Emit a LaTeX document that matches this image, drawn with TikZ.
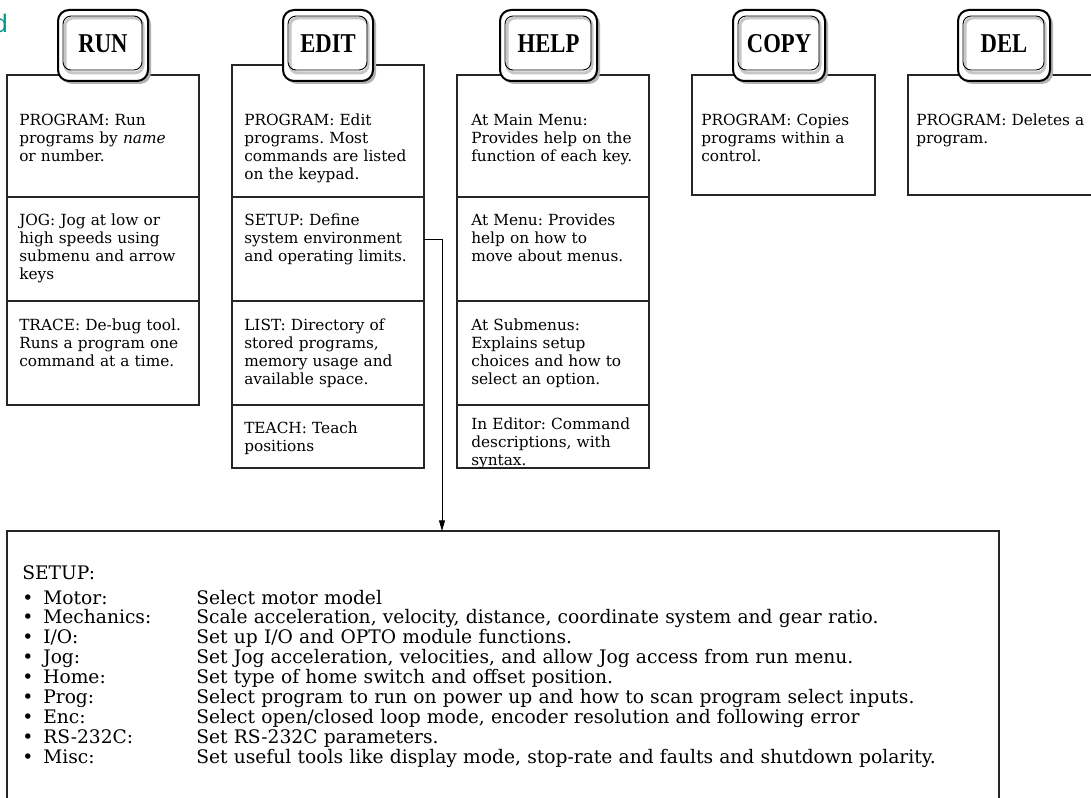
\documentclass[tikz,border=0pt]{standalone}
\usepackage{fontspec}
\setmainfont{DejaVu Serif}
\newfontfamily\keyfont{Liberation Serif}
\newfontfamily\tagfont{Liberation Sans}
\usepackage{graphicx}
\usetikzlibrary{positioning, calc, arrows.meta, shadows}
\newlength\pxu
\setlength\pxu{0.75pt}
\frenchspacing
\definecolor{tagteal}{RGB}{0,150,135}
\newcommand{\keytxt}[1]{\raisebox{3\pxu}{\scalebox{1}[1.2]{#1}}}
\tikzset{
    keycap/.style={rectangle, rounded corners=11\pxu, draw=black, line width=2\pxu, fill=white, minimum width=90\pxu, minimum height=71\pxu, inner sep=0pt, outer sep=0pt, font=\keyfont\bfseries\fontsize{17}{17}\selectfont, drop shadow={shadow xshift=3\pxu, shadow yshift=-3\pxu, fill=black!30, opacity=1}},
    keyface/.style={rounded corners=8\pxu, draw=black, line width=0.9\pxu},
    keybevel/.style={rounded corners=8\pxu, draw=black!22, line width=3\pxu},
    cell/.style={rectangle, draw=black!85, line width=1.2\pxu, inner sep=0pt, outer sep=0pt, minimum width=192\pxu, anchor=north west},
    celltext/.style={anchor=base west, inner sep=0pt, text width=190\pxu, align=left, font=\fontsize{11.5}{13.5}\selectfont},
    setuptext/.style={anchor=base west, inner sep=0pt, text width=960\pxu, align=left, font=\fontsize{14}{14.9}\selectfont},
    line/.style={-{Triangle[length=8pt, width=4.5pt]}, line width=0.75pt, black}
}
\newcommand{\setupitem}[2]{\makebox[21\pxu][l]{\textbullet}\makebox[153\pxu][l]{#1}#2}

\begin{document}
\begin{tikzpicture}[x=\pxu, y=-\pxu]
    \useasboundingbox (0,0) rectangle (1091,798);
    \clip (0,0) rectangle (1091,798);

    % columns below the keys
    \node[cell, minimum height=122\pxu] (run1) at (7,75) {};
    \node[cell, minimum height=104\pxu, below=0pt of run1] (run2) {};
    \node[cell, minimum height=104\pxu, below=0pt of run2] (run3) {};

    \node[cell, minimum height=132\pxu] (edit1) at (232,65) {};
    \node[cell, minimum height=104\pxu, below=0pt of edit1] (edit2) {};
    \node[cell, minimum height=104\pxu, below=0pt of edit2] (edit3) {};
    \node[cell, minimum height=63\pxu, below=0pt of edit3] (edit4) {};

    \node[cell, minimum height=122\pxu] (help1) at (457,75) {};
    \node[cell, minimum height=104\pxu, below=0pt of help1] (help2) {};
    \node[cell, minimum height=104\pxu, below=0pt of help2] (help3) {};
    \node[cell, minimum height=63\pxu, below=0pt of help3] (help4) {};

    \node[cell, minimum width=183\pxu, minimum height=120\pxu] (copy1) at (692,75) {};
    \node[cell, minimum width=250\pxu, minimum height=120\pxu] (del1) at (908,75) {};

    % cell texts
    \node[celltext] (run1txt) at ([shift={(12,51)}]run1.north west) {PROGRAM: Run\\programs by \emph{name}\\or number.};
    \node[celltext] (run2txt) at ([shift={(12,29)}]run2.north west) {JOG: Jog at low or\\high speeds using\\submenu and arrow\\keys};
    \node[celltext] (run3txt) at ([shift={(12,29)}]run3.north west) {TRACE: De-bug tool.\\Runs a program one\\command at a time.};

    \node[celltext] (edit1txt) at ([shift={(12,61)}]edit1.north west) {PROGRAM: Edit\\programs. Most\\commands are listed\\on the keypad.};
    \node[celltext] (edit2txt) at ([shift={(12,29)}]edit2.north west) {SETUP: Define\\system environment\\and operating limits.};
    \node[celltext] (edit3txt) at ([shift={(12,29)}]edit3.north west) {LIST: Directory of\\stored programs,\\memory usage and\\available space.};
    \node[celltext] (edit4txt) at ([shift={(12,28)}]edit4.north west) {TEACH: Teach\\positions};

    \node[celltext] (help1txt) at ([shift={(14,51)}]help1.north west) {At Main Menu:\\Provides help on the\\function of each key.};
    \node[celltext] (help2txt) at ([shift={(14,29)}]help2.north west) {At Menu: Provides\\help on how to\\move about menus.};
    \node[celltext] (help3txt) at ([shift={(14,29)}]help3.north west) {At Submenus:\\Explains setup\\choices and how to\\select an option.};
    \node[celltext] (help4txt) at ([shift={(14,24)}]help4.north west) {In Editor: Command\\descriptions, with\\syntax.};

    \node[celltext] (copy1txt) at ([shift={(9,51)}]copy1.north west) {PROGRAM: Copies\\programs within a\\control.};
    \node[celltext] (del1txt) at ([shift={(8,51)}]del1.north west) {PROGRAM: Deletes a\\program.};

    % keys
    \node[keycap] (runkey) at (103,45.5) {\keytxt{RUN}};
    \node[keycap] (editkey) at (328,45.5) {\keytxt{EDIT}};
    \node[keycap, minimum width=97\pxu] (helpkey) at (548.5,45.5) {\keytxt{HELP}};
    \node[keycap, minimum width=92\pxu] (copykey) at (779,45.5) {\keytxt{COPY}};
    \node[keycap, minimum width=92\pxu] (delkey) at (1004,45.5) {\keytxt{DEL}};
    \foreach \k in {runkey, editkey, helpkey, copykey, delkey} {
        \draw[keybevel] ($(\k.north west)+(7,8)$) rectangle ($(\k.south east)+(-5,-8)$);
        \draw[keyface] ($(\k.north west)+(5,6)$) rectangle ($(\k.south east)+(-6,-11)$);
    }

    \node[anchor=base east, inner sep=0pt, text=tagteal, font=\tagfont\fontsize{19}{19}\selectfont] (tag) at (8,33) {d};

    % setup details
    \node[cell, minimum width=992\pxu, minimum height=300\pxu] (setupbox) at (7,531) {};
    \node[setuptext] (setuptxt) at ([shift={(15,48)}]setupbox.north west) {SETUP:\\[3.9pt]
        \setupitem{Motor:}{Select motor model}\\
        \setupitem{Mechanics:}{Scale acceleration, velocity, distance, coordinate system and gear ratio.}\\
        \setupitem{I/O:}{Set up I/O and OPTO module functions.}\\
        \setupitem{Jog:}{Set Jog acceleration, velocities, and allow Jog access from run menu.}\\
        \setupitem{Home:}{Set type of home switch and offset position.}\\
        \setupitem{Prog:}{Select program to run on power up and how to scan program select inputs.}\\
        \setupitem{Enc:}{Select open/closed loop mode, encoder resolution and following error}\\
        \setupitem{RS-232C:}{Set RS-232C parameters.}\\
        \setupitem{Misc:}{Set useful tools like display mode, stop-rate and faults and shutdown polarity.}};

    \coordinate (bend) at (442,240);
    \draw[line] (edit2.east |- bend) -- (bend) -- (bend |- setupbox.north);
\end{tikzpicture}
\end{document}
